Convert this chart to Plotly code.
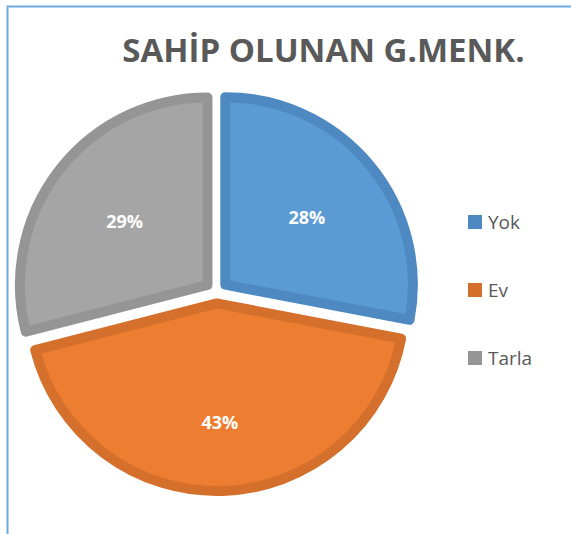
import plotly.graph_objects as go

W, H = 571, 534

labels = ["Yok", "Ev", "Tarla"]
values = [28, 43, 29]
fills = ["#5B9BD5", "#ED7D31", "#A5A5A5"]
edges = ["#4E89C1", "#D4702B", "#959595"]

TITLE = "SAHİP OLUNAN G.MENK."
TEXT_GREY = "#595959"
FONT = "Open Sans"


def px_x(x):
    return x / W


def px_y(y):
    return 1 - y / H


fig = go.Figure(go.Pie(
    labels=labels, values=values,
    sort=False, direction="clockwise", rotation=0,
    pull=0.061,
    marker={"colors": fills, "line": {"color": edges, "width": 10}},
    # blank lines push the big slice's label further down, as in the original
    texttemplate=["%{percent}", " <br> <br>%{percent}", "%{percent}"],
    textposition="inside",
    insidetextorientation="horizontal",
    textfont={"family": FONT, "size": 18, "color": "white", "weight": "bold"},
    domain={"x": [px_x(17.5), px_x(415.5)], "y": [px_y(491), px_y(93)]},
    showlegend=False, hoverinfo="label+percent",
))

# hand-placed legend so spacing matches the original
shapes = [{
    "type": "rect", "xref": "paper", "yref": "paper",
    "x0": px_x(7.5), "x1": 1.2, "y0": -0.2, "y1": px_y(6.5),
    "line": {"color": "#6FA8DC", "width": 2}, "fillcolor": "rgba(0,0,0,0)",
}]
annotations = []
for i, (name, col) in enumerate(zip(labels, edges)):
    yc = 222 + 68 * i
    shapes.append({
        "type": "rect", "xref": "paper", "yref": "paper",
        "x0": px_x(468), "x1": px_x(482), "y0": px_y(yc + 7), "y1": px_y(yc - 7),
        "line": {"width": 0}, "fillcolor": col,
    })
    annotations.append({
        "text": name, "xref": "paper", "yref": "paper",
        "x": px_x(486), "y": px_y(yc), "xanchor": "left", "yanchor": "middle",
        "showarrow": False, "font": {"family": FONT, "size": 19, "color": TEXT_GREY},
    })

fig.update_layout(
    width=W, height=H,
    margin={"l": 0, "r": 0, "t": 0, "b": 0},
    paper_bgcolor="white", plot_bgcolor="white",
    title={"text": TITLE, "x": px_x(323.5), "y": px_y(50),
           "xanchor": "center", "yanchor": "middle",
           "font": {"family": FONT, "size": 33, "color": TEXT_GREY, "weight": "bold"}},
    shapes=shapes, annotations=annotations,
)

fig.write_html("out.html", config={"displayModeBar": False},
               post_script="document.body.style.margin='0';"
                           "document.body.style.overflow='hidden';")
